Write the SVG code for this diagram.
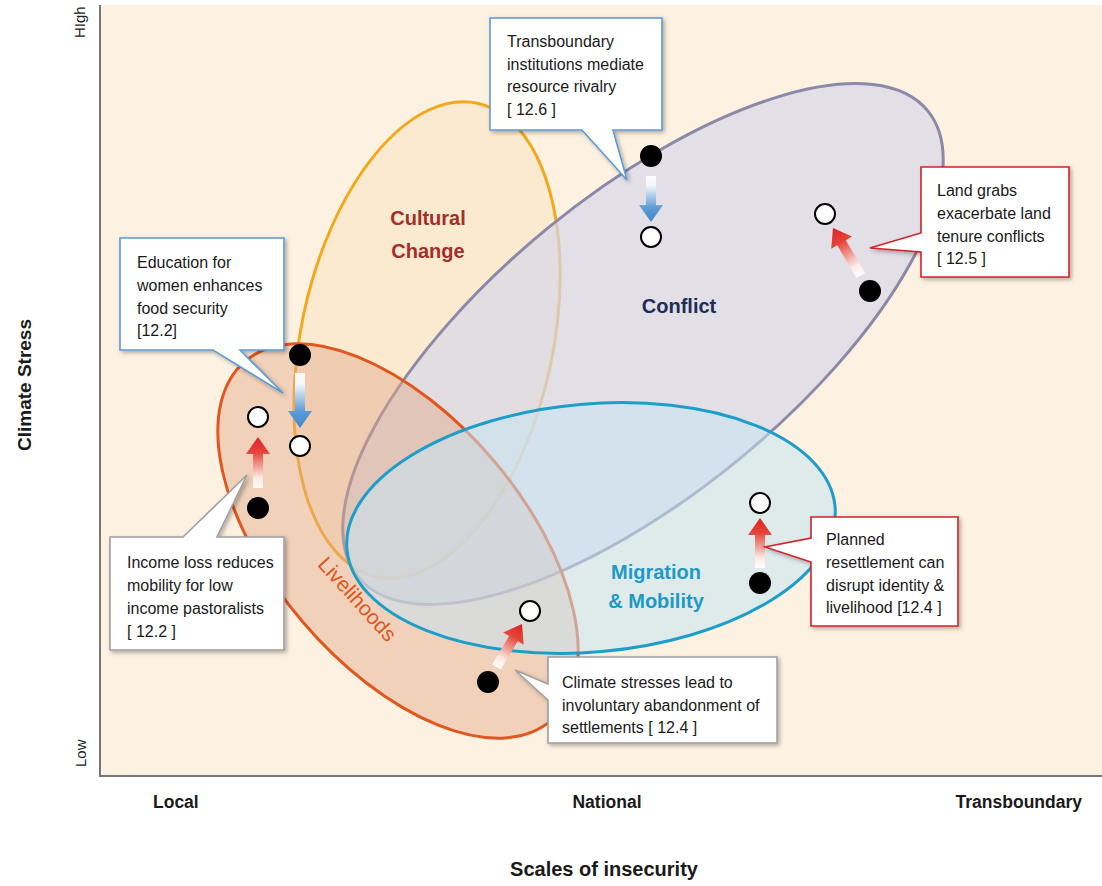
<svg xmlns="http://www.w3.org/2000/svg" width="1102" height="886" viewBox="0 0 1102 886">
<style>
.t{font-family:"Liberation Sans",Arial,sans-serif;font-size:16px;fill:#1a1a1a}
.ax{font-family:"Liberation Sans",Arial,sans-serif;font-size:15px;fill:#222}
.axb{font-family:"Liberation Sans",Arial,sans-serif;font-weight:bold;font-size:17.5px;fill:#1a1a1a}
.lbl{font-family:"Liberation Sans",Arial,sans-serif;font-weight:bold;font-size:20px;text-anchor:middle}
.cb{fill:#fff;stroke-width:1.6;filter:url(#sh)}
.blk{fill:#000}
.wht{fill:#fff;stroke:#000;stroke-width:2}
.ell{stroke-width:3}
</style>
<defs>
<filter id="sh" x="-10%" y="-10%" width="130%" height="130%">
<feDropShadow dx="2" dy="2" stdDeviation="2" flood-color="#000" flood-opacity="0.3"/>
</filter>
<linearGradient id="gb" x1="0" y1="1" x2="0" y2="0">
<stop offset="0" stop-color="#fff" stop-opacity="0.9"/>
<stop offset="0.2" stop-color="#f4f7fb"/>
<stop offset="0.7" stop-color="#5b9bd6"/>
<stop offset="1" stop-color="#3f87c9"/>
</linearGradient>
<linearGradient id="gr" x1="0" y1="1" x2="0" y2="0">
<stop offset="0" stop-color="#fff" stop-opacity="0.9"/>
<stop offset="0.2" stop-color="#fbeae4"/>
<stop offset="0.7" stop-color="#e5453a"/>
<stop offset="1" stop-color="#df1f26"/>
</linearGradient>
</defs>
<rect x="0" y="0" width="1102" height="886" fill="#fff"/>
<g id="plot">
<rect x="100" y="5" width="1002" height="771" fill="#fdf2e2"/>
<path d="M100,5 V776 H1102" fill="none" stroke="#777" stroke-width="2"/>
</g>
<g id="cultural-change">
<ellipse class="ell" cx="0" cy="0" rx="126" ry="242" transform="translate(427,340) rotate(12)" fill="#f9dcae" fill-opacity="0.35" stroke="#f3a81c"/>
<text class="lbl" fill="#a2302a" x="428" y="225">Cultural</text>
<text class="lbl" fill="#a2302a" x="428" y="258">Change</text>
</g>
<g id="conflict">
<ellipse class="ell" cx="0" cy="0" rx="368" ry="150" transform="translate(643,344) rotate(-39.3)" fill="#d6d7e8" fill-opacity="0.7" stroke="#8c88a8"/>
<text class="lbl" fill="#1f2d5a" x="679" y="313">Conflict</text>
</g>
<g id="livelihoods">
<ellipse class="ell" cx="0" cy="0" rx="236" ry="125" transform="translate(398,541) rotate(49.6)" fill="#e3a98a" fill-opacity="0.45" stroke="#e0571f"/>
<text x="0" y="0" transform="translate(352,604) rotate(48)" style="font-family:'Liberation Sans',Arial,sans-serif;font-size:21px;fill:#e0571f;text-anchor:middle">Livelihoods</text>
</g>
<g id="migration-mobility">
<ellipse class="ell" cx="0" cy="0" rx="245" ry="124" transform="translate(591,528) rotate(-5)" fill="#c7e3f2" fill-opacity="0.55" stroke="#1c9ec9"/>
<text class="lbl" fill="#1c9ac6" x="656" y="579">Migration</text>
<text class="lbl" fill="#1c9ac6" x="656" y="608">&amp; Mobility</text>
</g>
<g id="connectors">
<polygon transform="translate(651,222) rotate(180)" points="0,0 12,17 5,17 5,46 -5,46 -5,17 -12,17" fill="url(#gb)"/>
<polygon transform="translate(300,428) rotate(180)" points="0,0 12,17 5,17 5,55 -5,55 -5,17 -12,17" fill="url(#gb)"/>
<polygon transform="translate(258,437)" points="0,0 12,17 5,17 5,51 -5,51 -5,17 -12,17" fill="url(#gr)"/>
<polygon transform="translate(760,518)" points="0,0 12,17 5,17 5,50 -5,50 -5,17 -12,17" fill="url(#gr)"/>
<polygon transform="translate(833,228) rotate(-30.3)" points="0,0 12,17 5,17 5,55 -5,55 -5,17 -12,17" fill="url(#gr)"/>
<polygon transform="translate(522,624) rotate(30.6)" points="0,0 12,17 5,17 5,50 -5,50 -5,17 -12,17" fill="url(#gr)"/>
</g>
<g id="dots">
<circle class="blk" cx="651" cy="156" r="11"/>
<circle class="wht" cx="651" cy="237" r="10"/>
<circle class="blk" cx="870" cy="291" r="11"/>
<circle class="wht" cx="825" cy="214" r="10"/>
<circle class="blk" cx="300" cy="355" r="11"/>
<circle class="wht" cx="300" cy="446" r="10"/>
<circle class="blk" cx="258" cy="508" r="11"/>
<circle class="wht" cx="258" cy="417" r="10"/>
<circle class="blk" cx="760" cy="583" r="11"/>
<circle class="wht" cx="760" cy="503" r="10"/>
<circle class="blk" cx="488" cy="682" r="11"/>
<circle class="wht" cx="530" cy="611" r="10"/>
</g>
<g id="callout-transboundary">
<path class="cb" stroke="#5b9bd5" d="M490,18 H662 V130 H613 L627,180 L582,130 H490 Z"/>
<text class="t" x="507" y="47">Transboundary</text>
<text class="t" x="507" y="70">institutions mediate</text>
<text class="t" x="507" y="92">resource rivalry</text>
<text class="t" x="507" y="115">[ 12.6 ]</text>
</g>
<g id="callout-education">
<path class="cb" stroke="#5b9bd5" d="M120,238 H284 V350 H240 L283,393 L213,350 H120 Z"/>
<text class="t" x="137" y="268">Education for</text>
<text class="t" x="137" y="291">women enhances</text>
<text class="t" x="137" y="314">food security</text>
<text class="t" x="137" y="336">[12.2]</text>
</g>
<g id="callout-income">
<path class="cb" stroke="#a0a0a0" d="M110,537 H183 L247,475 L217,537 H284 V650 H110 Z"/>
<text class="t" x="127" y="568">Income loss reduces</text>
<text class="t" x="127" y="591">mobility for low</text>
<text class="t" x="127" y="614">income pastoralists</text>
<text class="t" x="127" y="637">[ 12.2 ]</text>
</g>
<g id="callout-climate">
<path class="cb" stroke="#a0a0a0" d="M548,657 H777 V743 H548 V700 L515,670 L548,684 Z"/>
<text class="t" x="562" y="688">Climate stresses lead to</text>
<text class="t" x="562" y="711">involuntary abandonment of</text>
<text class="t" x="562" y="733">settlements [ 12.4 ]</text>
</g>
<g id="callout-planned">
<path class="cb" stroke="#d2232a" stroke-width="2" d="M811,517 H958 V626 H811 V562 L765,547 L811,538 Z"/>
<text class="t" x="826" y="545">Planned</text>
<text class="t" x="826" y="568">resettlement can</text>
<text class="t" x="826" y="591">disrupt identity &amp;</text>
<text class="t" x="826" y="613">livelihood [12.4 ]</text>
</g>
<g id="callout-landgrabs">
<path class="cb" stroke="#d2232a" stroke-width="2" d="M921,167 H1069 V277 H921 V252 L870,248 L921,233 Z"/>
<text class="t" x="937" y="196">Land grabs</text>
<text class="t" x="937" y="219">exacerbate land</text>
<text class="t" x="937" y="242">tenure conflicts</text>
<text class="t" x="937" y="264">[ 12.5 ]</text>
</g>
<g id="axes-labels">
<text class="ax" transform="translate(85,38) rotate(-90)">HIgh</text>
<text class="ax" transform="translate(86,767) rotate(-90)">Low</text>
<text transform="translate(31,385) rotate(-90)" style="font-family:'Liberation Sans',Arial,sans-serif;font-weight:bold;font-size:19px;fill:#1a1a1a;text-anchor:middle">Climate Stress</text>
<text class="axb" x="153" y="808">Local</text>
<text class="axb" x="607" y="808" text-anchor="middle">National</text>
<text class="axb" x="1082" y="808" text-anchor="end">Transboundary</text>
<text x="604" y="876" style="font-family:'Liberation Sans',Arial,sans-serif;font-weight:bold;font-size:20px;fill:#1a1a1a;text-anchor:middle">Scales of insecurity</text>
</g>
</svg>
